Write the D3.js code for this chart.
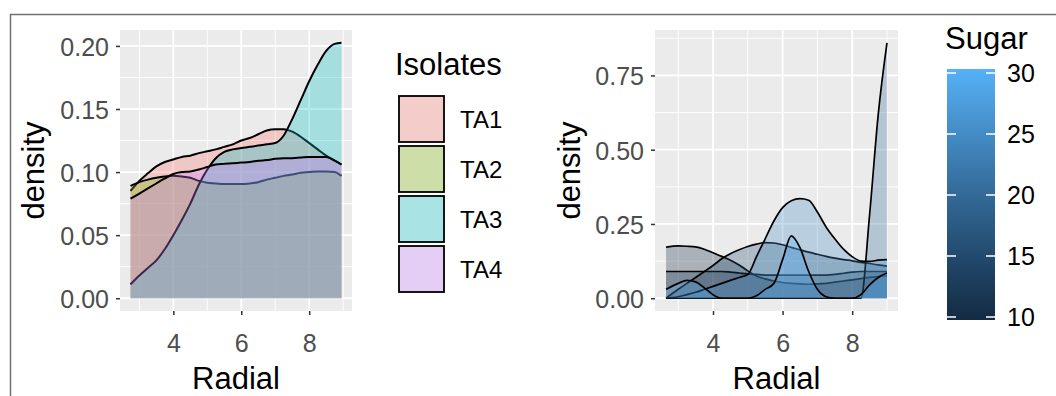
<!DOCTYPE html>
<html>
<head>
<meta charset="utf-8">
<script src="https://cdn.jsdelivr.net/npm/d3@7"></script>
<style>
body { margin: 0; background: #fff; }
text { font-family: "Liberation Sans", Arial, sans-serif; }
</style>
</head>
<body>
<svg id="chart" width="1056" height="396"></svg>
<script>
// ---- left panel: density of Radial, one curve per isolate
var isolates = ["TA1", "TA2", "TA3", "TA4"];
var isolateColors = ["#F8766D", "#7CAE00", "#00BFC4", "#C77CFF"];
var radialLeft = [2.74, 3.0, 3.25, 3.5, 3.75, 4.0, 4.25, 4.5, 4.75, 5.0, 5.25, 5.5, 5.75,
                  6.0, 6.25, 6.5, 6.75, 7.0, 7.25, 7.5, 7.75, 8.0, 8.25, 8.5, 8.75, 8.95];
var ta1 = [0.085, 0.093, 0.099, 0.1045, 0.108, 0.110, 0.112, 0.113, 0.115, 0.1165, 0.118, 0.120, 0.122,
           0.125, 0.127, 0.130, 0.133, 0.134, 0.134, 0.132, 0.128, 0.123, 0.118, 0.113, 0.109, 0.106];
var ta2 = [0.089, 0.092, 0.094, 0.0955, 0.0965, 0.097, 0.0965, 0.0955, 0.093, 0.0915, 0.091, 0.0905, 0.0905,
           0.0905, 0.091, 0.092, 0.094, 0.0955, 0.097, 0.098, 0.0995, 0.100, 0.1005, 0.1005, 0.100, 0.097];
var ta3 = [0.011, 0.018, 0.024, 0.030, 0.039, 0.050, 0.062, 0.075, 0.090, 0.102, 0.111, 0.116, 0.118,
           0.119, 0.120, 0.121, 0.122, 0.123, 0.129, 0.142, 0.157, 0.172, 0.185, 0.196, 0.2016, 0.2025];
var ta4 = [0.079, 0.083, 0.087, 0.091, 0.095, 0.0985, 0.100, 0.1005, 0.102, 0.104, 0.106, 0.1065, 0.107,
           0.1075, 0.108, 0.109, 0.1095, 0.1105, 0.111, 0.111, 0.1115, 0.112, 0.112, 0.112, 0.109, 0.106];
var leftDens = [ta1, ta2, ta3, ta4];
var leftYTicks = [0, 0.05, 0.10, 0.15, 0.20];
var radialTicks = [4, 6, 8];

// ---- right panel: density of Radial, one curve per sugar level
var radialRight = [2.65, 3.0, 3.25, 3.5, 3.75, 4.0, 4.25, 4.5, 4.75, 5.0, 5.25, 5.5, 5.75,
                   6.0, 6.25, 6.5, 6.75, 7.0, 7.25, 7.5, 7.75, 8.0, 8.25, 8.5, 8.75, 9.0];
var sugarLevels = [10, 12, 15, 20, 25, 30];
var sug10 = [0.172, 0.176, 0.175, 0.173, 0.165, 0.153, 0.141, 0.128, 0.112, 0.092, 0.075, 0.065, 0.058,
             0.053, 0.050, 0.048, 0.047, 0.048, 0.050, 0.054, 0.058, 0.062, 0.066, 0.070, 0.073, 0.075];
var sug12 = [0.090, 0.090, 0.090, 0.090, 0.090, 0.090, 0.090, 0.088, 0.085, 0.082, 0.080, 0.078, 0.078,
             0.078, 0.078, 0.078, 0.078, 0.078, 0.078, 0.080, 0.084, 0.088, 0.090, 0.090, 0.090, 0.090];
var sug15 = [0.000, 0.030, 0.050, 0.070, 0.090, 0.110, 0.133, 0.150, 0.163, 0.174, 0.182, 0.187, 0.186,
             0.180, 0.171, 0.163, 0.155, 0.148, 0.141, 0.135, 0.130, 0.126, 0.121, 0.117, 0.112, 0.108];
var sug20 = [0, 0, 0, 0, 0, 0, 0, 0, 0, 0, 0, 0, 0,
             0, 0, 0, 0, 0, 0, 0, 0, 0, 0, 0.28, 0.62, 0.86];
var sug25 = [0.000, 0.005, 0.012, 0.020, 0.030, 0.040, 0.050, 0.060, 0.070, 0.080, 0.140, 0.200, 0.260,
             0.305, 0.328, 0.335, 0.330, 0.290, 0.240, 0.200, 0.165, 0.140, 0.125, 0.124, 0.128, 0.130];
var sug30 = [0.030, 0.050, 0.060, 0.055, 0.035, 0.012, 0, 0, 0, 0, 0.008, 0.030, 0.050,
             0.130, 0.210, 0.170, 0.090, 0.030, 0.005, 0, 0, 0, 0.012, 0.045, 0.070, 0.085];
var rightDens = [sug10, sug12, sug15, sug20, sug25, sug30];
var rightYTicks = [0, 0.25, 0.50, 0.75];
var sugarTicks = [10, 15, 20, 25, 30];

var svg = d3.select("#chart");
var fmt2 = d3.format(".2f");

// outer frame of the screenshot
svg.append("path").attr("d", "M10.5,396 V14.5 H1056")
    .attr("fill", "none").attr("stroke", "#707070").attr("stroke-width", 1.5);

function expand(lo, hi) {
    var pad = (hi - lo) * 0.05;
    return [lo - pad, hi + pad];
}

function minors(ticks, dom) {
    var step = ticks[1] - ticks[0], out = [];
    var cand = [ticks[0] - step / 2];
    for (var i = 0; i < ticks.length; i++) cand.push(ticks[i] + step / 2);
    cand.forEach(function (v) { if (v > dom[0] && v < dom[1]) out.push(v); });
    return out;
}

function panel(o) {
    var g = svg.append("g");
    var xDom = expand(d3.min(o.xs), d3.max(o.xs));
    var yDom = expand(0, d3.max(o.dens, function (s) { return d3.max(s); }));
    var x = d3.scaleLinear().domain(xDom).range([o.left, o.right]);
    var y = d3.scaleLinear().domain(yDom).range([o.bottom, o.top]);

    g.append("rect").attr("x", o.left).attr("y", o.top)
        .attr("width", o.right - o.left).attr("height", o.bottom - o.top)
        .attr("fill", "#EBEBEB");

    // grid
    minors(o.yTicks, yDom).forEach(function (v) {
        g.append("line").attr("x1", o.left).attr("x2", o.right).attr("y1", y(v)).attr("y2", y(v))
            .attr("stroke", "#fff").attr("stroke-width", 0.9);
    });
    minors(radialTicks, xDom).forEach(function (v) {
        g.append("line").attr("y1", o.top).attr("y2", o.bottom).attr("x1", x(v)).attr("x2", x(v))
            .attr("stroke", "#fff").attr("stroke-width", 0.9);
    });
    o.yTicks.forEach(function (v) {
        g.append("line").attr("x1", o.left).attr("x2", o.right).attr("y1", y(v)).attr("y2", y(v))
            .attr("stroke", "#fff").attr("stroke-width", 1.8);
    });
    radialTicks.forEach(function (v) {
        g.append("line").attr("y1", o.top).attr("y2", o.bottom).attr("x1", x(v)).attr("x2", x(v))
            .attr("stroke", "#fff").attr("stroke-width", 1.8);
    });

    var area = d3.area().curve(d3.curveMonotoneX)
        .x(function (d, i) { return x(o.xs[i]); })
        .y0(y(0)).y1(function (d) { return y(d); });
    var line = d3.line().curve(d3.curveMonotoneX)
        .x(function (d, i) { return x(o.xs[i]); })
        .y(function (d) { return y(d); });

    o.dens.forEach(function (s, i) {
        g.append("path").attr("d", area(s))
            .attr("fill", o.colors[i]).attr("fill-opacity", 0.3);
        g.append("path").attr("d", line(s))
            .attr("fill", "none").attr("stroke", "#000").attr("stroke-width", o.lw);
    });

    // axes
    var ya = g.append("g").attr("transform", "translate(" + o.left + ",0)")
        .call(d3.axisLeft(y).tickValues(o.yTicks).tickFormat(fmt2).tickSize(4).tickPadding(7));
    var xa = g.append("g").attr("transform", "translate(0," + o.bottom + ")")
        .call(d3.axisBottom(x).tickValues(radialTicks).tickFormat(d3.format("d")).tickSize(4).tickPadding(19));
    [ya, xa].forEach(function (a) {
        a.select(".domain").remove();
        a.selectAll(".tick line").attr("stroke", "#333").attr("stroke-width", 1.5);
        a.selectAll(".tick text").attr("fill", "#4D4D4D").style("font-size", "25px")
            .style("font-family", "'Liberation Sans', Arial, sans-serif");
    });
    ya.selectAll(".tick text").attr("dy", "0.38em");

    g.append("text").attr("x", (o.left + o.right) / 2).attr("y", 389)
        .attr("text-anchor", "middle").style("font-size", "31px").text("Radial");
    g.append("text").attr("transform", "translate(" + o.titleX + "," + (o.top + o.bottom) / 2 + ") rotate(-90)")
        .attr("text-anchor", "middle").style("font-size", "31px").text("density");
}

panel({
    left: 120, right: 352, top: 30, bottom: 311, titleX: 44,
    xs: radialLeft, dens: leftDens, yTicks: leftYTicks,
    colors: isolateColors, lw: 2
});

var sugarColor = d3.scaleLinear().domain([10, 30]).range(["#132B43", "#56B1F7"])
    .interpolate(d3.interpolateLab);

panel({
    left: 655, right: 898, top: 30, bottom: 311, titleX: 580,
    xs: radialRight, dens: rightDens, yTicks: rightYTicks,
    colors: sugarLevels.map(sugarColor), lw: 1.7
});

// ---- legend: Isolates
var leg = svg.append("g");
leg.append("text").attr("x", 395).attr("y", 75).style("font-size", "31px").text("Isolates");
isolates.forEach(function (name, i) {
    var ky = 95 + i * 50;
    leg.append("rect").attr("x", 398).attr("y", ky).attr("width", 47).attr("height", 48)
        .attr("fill", "#F2F2F2");
    leg.append("rect").attr("x", 399).attr("y", ky + 1).attr("width", 45).attr("height", 46)
        .attr("fill", isolateColors[i]).attr("fill-opacity", 0.3)
        .attr("stroke", "#000").attr("stroke-width", 1.8);
    leg.append("text").attr("x", 460).attr("y", ky + 24).attr("dy", "0.36em")
        .style("font-size", "24px").text(name);
});

// ---- colourbar: Sugar
var cb = svg.append("g");
var cbTop = 69, cbBottom = 320, cbLeft = 947, cbRight = 995;
var grad = svg.append("defs").append("linearGradient").attr("id", "sugarGrad")
    .attr("x1", 0).attr("y1", 1).attr("x2", 0).attr("y2", 0);
d3.range(0, 1.0001, 0.1).forEach(function (t) {
    grad.append("stop").attr("offset", t).attr("stop-color", sugarColor(10 + 20 * t));
});
cb.append("text").attr("x", 945).attr("y", 49).style("font-size", "31px").text("Sugar");
cb.append("rect").attr("x", cbLeft).attr("y", cbTop).attr("width", cbRight - cbLeft)
    .attr("height", cbBottom - cbTop).attr("fill", "url(#sugarGrad)");
var sy = d3.scaleLinear().domain([10, 30]).range([317, 73]);
sugarTicks.forEach(function (v) {
    cb.append("line").attr("x1", cbLeft).attr("x2", cbLeft + 9).attr("y1", sy(v)).attr("y2", sy(v))
        .attr("stroke", "#fff").attr("stroke-width", 1.5);
    cb.append("line").attr("x1", cbRight - 9).attr("x2", cbRight).attr("y1", sy(v)).attr("y2", sy(v))
        .attr("stroke", "#fff").attr("stroke-width", 1.5);
    cb.append("text").attr("x", 1007).attr("y", sy(v)).attr("dy", "0.36em")
        .style("font-size", "25px").text(v);
});
</script>
</body>
</html>
